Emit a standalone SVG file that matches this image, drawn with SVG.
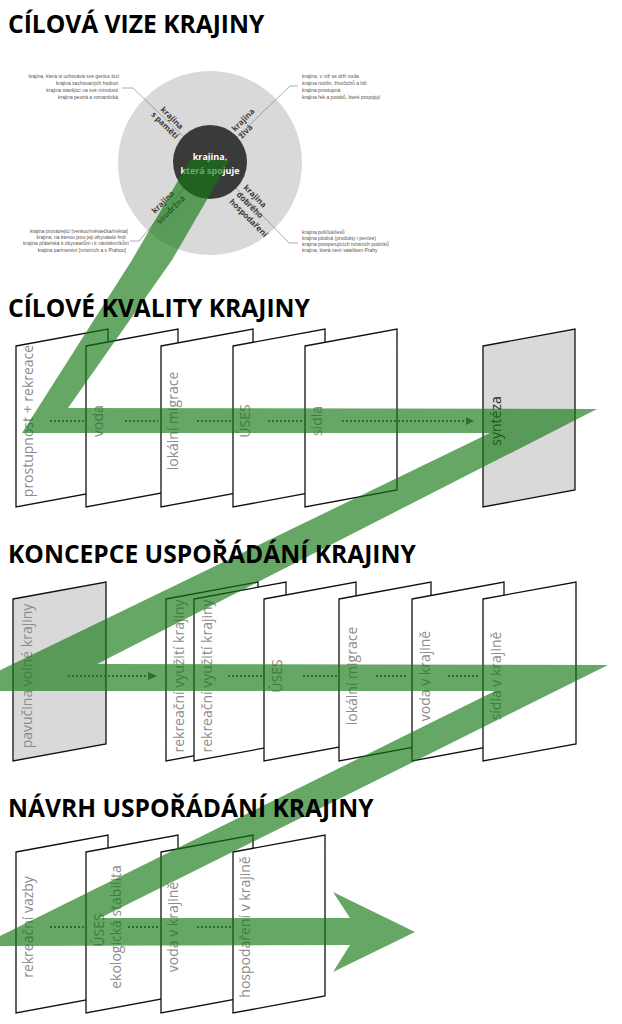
<svg xmlns="http://www.w3.org/2000/svg" width="622" height="1024" viewBox="0 0 622 1024">
<style>
.title{font-family:"Open Sans","Liberation Sans",sans-serif;font-weight:700;font-size:24.6px;fill:#000}
.panel{fill:#fff;stroke:#111;stroke-width:1.3;stroke-linejoin:miter}
.gray{fill:#d9d9d9}
.pt{font-family:"Open Sans","Liberation Sans",sans-serif;font-size:14px;fill:#8c8c8c;text-anchor:middle}
.ptd{fill:#2a2a2a}
.small{font-family:"Liberation Sans",sans-serif;font-size:5px;fill:#555}
.lab{font-family:"Open Sans","Liberation Sans",sans-serif;font-weight:700;font-size:8px;fill:#3c3c3c}
.core{font-family:"Open Sans","Liberation Sans",sans-serif;font-weight:700;font-size:9px;fill:#fff;text-anchor:middle}
.lead{fill:none;stroke:#777;stroke-width:0.6}
.dot{fill:none;stroke:#2e6e2e;stroke-width:2.2;stroke-dasharray:2 2}
.head{fill:#2e6e2e}
</style>

<rect width="622" height="1024" fill="#fff"/>

<!-- vision circle -->
<g id="vision">
  <circle cx="210" cy="163" r="92" fill="#d9d9d9"/>
  <circle cx="210" cy="162" r="37" fill="#3a3a3a"/>
  <polyline class="lead" points="183,136 133,88 122,88"/>
  <polyline class="lead" points="237,137 290,86 298,86"/>
  <polyline class="lead" points="184,188 139,241 130,241"/>
  <polyline class="lead" points="236,188 289,243 298,243"/>
  <text class="core" x="210" y="160">krajina,</text>
  <text class="core" x="210" y="174">která spojuje</text>
  <g transform="translate(170,120) rotate(45)"><text class="lab" text-anchor="middle" x="0" y="0">krajina</text><text class="lab" text-anchor="middle" x="0" y="10">s pamětí</text></g>
  <g transform="translate(235,132) rotate(-45)"><text class="lab" x="0" y="0">krajina</text><text class="lab" x="0" y="10">živá</text></g>
  <g transform="translate(165,204) rotate(-45)"><text class="lab" text-anchor="middle" x="0" y="0">krajina</text><text class="lab" text-anchor="middle" x="0" y="11">soudržná</text></g>
  <g transform="translate(243,188) rotate(45)"><text class="lab" x="0" y="0">krajina</text><text class="lab" x="0" y="10">dobrého</text><text class="lab" x="0" y="20">hospodaření</text></g>
  <g text-anchor="end">
    <text class="small" x="119" y="78">krajina, která si uchovává své genius loci</text>
    <text class="small" x="118" y="85">krajina zachovaných hodnot</text>
    <text class="small" x="118" y="92">krajina stavějící na své minulosti</text>
    <text class="small" x="118" y="99">krajina pestrá a romantická</text>
    <text class="small" x="128" y="233">krajina provázející [venkov/městečka/města]</text>
    <text class="small" x="126" y="239">krajina, na kterou jsou její obyvatelé hrdí</text>
    <text class="small" x="129" y="245">krajina přátelská k obyvatelům i k návštěvníkům</text>
    <text class="small" x="126" y="252">krajina partnerství [místních a s Prahou]</text>
  </g>
  <text class="small" x="302" y="78">krajina, v níž se drží voda</text>
  <text class="small" x="302" y="85">krajina rostlin, živočichů a lidí</text>
  <text class="small" x="302" y="92">krajina prostupná</text>
  <text class="small" x="302" y="99">krajina řek a potoků, které propojují</text>
  <text class="small" x="302" y="234">krajina polí/luk/lesů</text>
  <text class="small" x="302" y="240">krajina plodná (produkty i peníze)</text>
  <text class="small" x="302" y="246">krajina prosperujících místních podniků</text>
  <text class="small" x="302" y="252">krajina, která není satelitem Prahy</text>
</g>

<!-- section 2 panels -->
<g id="k-prostupnost"><polygon class="panel" points="16,346 108,329 108,490 16,507"/><text class="pt" transform="translate(33,421) rotate(-90)">prostupnost + rekreace</text></g>
<g id="k-voda"><polygon class="panel" points="86,346 178,329 178,490 86,507"/><text class="pt" transform="translate(103,421) rotate(-90)">voda</text></g>
<g id="k-migrace"><polygon class="panel" points="161,346 253,329 253,490 161,507"/><text class="pt" transform="translate(178,421) rotate(-90)">lokální migrace</text></g>
<g id="k-uses"><polygon class="panel" points="233,346 325,329 325,490 233,507"/><text class="pt" transform="translate(250,421) rotate(-90)">ÚSES</text></g>
<g id="k-sidla"><polygon class="panel" points="305,346 397,329 397,490 305,507"/><text class="pt" transform="translate(322,421) rotate(-90)">sídla</text></g>
<g id="k-synteza"><polygon class="panel gray" points="483,346 575,329 575,490 483,507"/><text class="pt ptd" transform="translate(501,421) rotate(-90)">syntéza</text></g>

<!-- section 3 panels -->
<g id="u-pavucina"><polygon class="panel gray" points="13,599 106,582 106,744 13,761"/><text class="pt" transform="translate(32,676) rotate(-90)">pavučina volné krajiny</text></g>
<g id="u-rekreace1"><polygon class="panel" points="166,599 258,582 258,744 166,761"/><text class="pt" transform="translate(184,676) rotate(-90)">rekreační využití krajiny</text></g>
<g id="u-rekreace2"><polygon class="panel" points="194,599 286,582 286,744 194,761"/><text class="pt" transform="translate(212,676) rotate(-90)">rekreační využití krajiny</text></g>
<g id="u-uses"><polygon class="panel" points="264,599 356,582 356,744 264,761"/><text class="pt" transform="translate(282,676) rotate(-90)">ÚSES</text></g>
<g id="u-migrace"><polygon class="panel" points="339,599 431,582 431,744 339,761"/><text class="pt" transform="translate(357,676) rotate(-90)">lokální migrace</text></g>
<g id="u-voda"><polygon class="panel" points="412,599 504,582 504,744 412,761"/><text class="pt" transform="translate(430,676) rotate(-90)">voda v krajině</text></g>
<g id="u-sidla"><polygon class="panel" points="483,599 576,582 576,744 483,761"/><text class="pt" transform="translate(501,676) rotate(-90)">sídla v krajině</text></g>

<!-- section 4 panels -->
<g id="n-rekreace"><polygon class="panel" points="16,852 108,835 108,996 16,1013"/><text class="pt" transform="translate(33,927) rotate(-90)">rekreační vazby</text></g>
<g id="n-uses"><polygon class="panel" points="86,852 178,835 178,996 86,1013"/><text class="pt" transform="translate(104,930) rotate(-90)">ÚSES</text><text class="pt" transform="translate(121,927) rotate(-90)">ekologická stabilita</text></g>
<g id="n-voda"><polygon class="panel" points="161,852 253,835 253,996 161,1013"/><text class="pt" transform="translate(178,927) rotate(-90)">voda v krajině</text></g>
<g id="n-hospodareni"><polygon class="panel" points="233,852 325,835 325,996 233,1013"/><text class="pt" transform="translate(250,927) rotate(-90)">hospodaření v krajině</text></g>

<!-- green flow band -->
<g id="flow">
  <polygon fill="#147814" fill-opacity="0.65" points="190,160 230,160 172,260 68,408 597,409 97,664 608,665 100,918 350,918 333,892 415,932 333,972 350,945 -20,946 495,691 -43,691 490,433 22,433 132,260"/>
</g>

<!-- connectors -->
<g id="connectors">
  <path class="dot" d="M50,421H86M125,421H158M197,421H231M268,421H303M342,421H468"/>
  <polygon class="head" points="466,417 474,421 466,425"/>
  <path class="dot" d="M68,676H150M228,676H262M303,676H337M376,676H408M448,676H480"/>
  <polygon class="head" points="148,672 157,676 148,680"/>
  <path class="dot" d="M50,927H84M128,927H158M197,927H231"/>
</g>

<!-- titles -->
<g id="titles">
<text class="title" x="8" y="33">CÍLOVÁ VIZE KRAJINY</text>
<text class="title" x="8" y="317">CÍLOVÉ KVALITY KRAJINY</text>
<text class="title" x="8" y="563">KONCEPCE USPOŘÁDÁNÍ KRAJINY</text>
<text class="title" x="8" y="817">NÁVRH USPOŘÁDÁNÍ KRAJINY</text>
</g>
</svg>
